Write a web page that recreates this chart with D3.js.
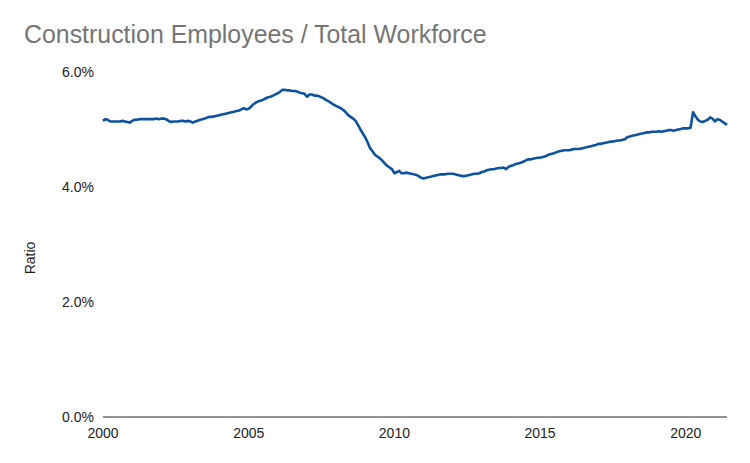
<!DOCTYPE html>
<html>
<head>
<meta charset="utf-8">
<script src="https://cdn.jsdelivr.net/npm/d3@7"></script>
<style>
  body { margin: 0; background: #fff; }
  svg { display: block; font-family: Arial, "Liberation Sans", sans-serif; }
</style>
</head>
<body>
<div id="chart"></div>
<script>
// monthly ratio, % of total workforce, Jan 2000 .. Jun 2021
const firstMonth = "2000-01";
const ratio2000s = [
  5.15, 5.18, 5.17, 5.14, 5.14, 5.14, 5.14, 5.14, 5.15, 5.14, 5.13, 5.12, // 2000
  5.15, 5.17, 5.17, 5.18, 5.18, 5.18, 5.18, 5.18, 5.18, 5.18, 5.19, 5.18, // 2001
  5.19, 5.19, 5.18, 5.15, 5.13, 5.14, 5.14, 5.14, 5.15, 5.15, 5.14, 5.15, // 2002
  5.14, 5.12, 5.14, 5.15, 5.17, 5.18, 5.19, 5.21, 5.22, 5.22, 5.23, 5.24, // 2003
  5.25, 5.26, 5.27, 5.28, 5.29, 5.30, 5.31, 5.32, 5.33, 5.35, 5.37, 5.35, // 2004
  5.36, 5.40, 5.44, 5.47, 5.49, 5.50, 5.52, 5.54, 5.56, 5.57, 5.59, 5.61, // 2005
  5.63, 5.66, 5.69, 5.69, 5.68, 5.68, 5.67, 5.67, 5.66, 5.64, 5.63, 5.62, // 2006
  5.57, 5.61, 5.61, 5.59, 5.59, 5.58, 5.56, 5.54, 5.51, 5.49, 5.46, 5.43, // 2007
  5.41, 5.39, 5.37, 5.34, 5.30, 5.25, 5.22, 5.19, 5.15, 5.08, 5.00, 4.93, // 2008
  4.86, 4.77, 4.68, 4.62, 4.56, 4.53, 4.50, 4.46, 4.41, 4.37, 4.34, 4.31  // 2009
];
const ratio2010s = [
  4.24, 4.26, 4.28, 4.24, 4.24, 4.25, 4.24, 4.23, 4.22, 4.21, 4.19, 4.16, // 2010
  4.15, 4.16, 4.17, 4.18, 4.19, 4.20, 4.21, 4.22, 4.22, 4.22, 4.23, 4.23, // 2011
  4.23, 4.22, 4.21, 4.20, 4.19, 4.19, 4.20, 4.21, 4.22, 4.23, 4.23, 4.24, // 2012
  4.26, 4.27, 4.29, 4.30, 4.31, 4.31, 4.32, 4.33, 4.33, 4.34, 4.31, 4.35, // 2013
  4.37, 4.38, 4.40, 4.41, 4.42, 4.44, 4.46, 4.48, 4.48, 4.49, 4.50, 4.51, // 2014
  4.51, 4.52, 4.53, 4.55, 4.57, 4.58, 4.59, 4.61, 4.62, 4.63, 4.64, 4.64, // 2015
  4.64, 4.65, 4.66, 4.66, 4.66, 4.67, 4.68, 4.69, 4.70, 4.71, 4.72, 4.73, // 2016
  4.75, 4.75, 4.76, 4.77, 4.78, 4.79, 4.79, 4.80, 4.81, 4.81, 4.82, 4.83, // 2017
  4.87, 4.88, 4.89, 4.90, 4.91, 4.92, 4.93, 4.94, 4.95, 4.95, 4.96, 4.96, // 2018
  4.96, 4.97, 4.96, 4.97, 4.98, 4.99, 4.99, 4.98, 4.99, 5.00, 5.01, 5.02  // 2019
];
const ratio2020s = [
  5.02, 5.02, 5.03, 5.30, 5.23, 5.17, 5.14, 5.13, 5.15, 5.17, 5.21, 5.19, // 2020
  5.14, 5.18, 5.17, 5.14, 5.11, 5.08                                      // 2021
];

const titleText = "Construction Employees / Total Workforce";
const yTitle = "Ratio";
const yTicks = [0, 2, 4, 6];
const xTickYears = [2000, 2005, 2010, 2015, 2020];

const width = 750, height = 463;
const plot = { left: 103, right: 727, top: 72, bottom: 417 };

const parseMonth = d3.timeParse("%Y-%m");
const values = ratio2000s.concat(ratio2010s, ratio2020s);
const start = parseMonth(firstMonth);
const data = values.map((v, i) => ({ date: d3.timeMonth.offset(start, i), value: v }));

const svg = d3.select("#chart").append("svg")
    .attr("width", width)
    .attr("height", height);

const x = d3.scaleTime()
    .domain(d3.extent(data, d => d.date))
    .range([plot.left, plot.right]);

const y = d3.scaleLinear()
    .domain([0, 6])
    .range([plot.bottom, plot.top]);

// title
svg.append("text")
    .attr("x", 24)
    .attr("y", 43)
    .attr("fill", "#757575")
    .attr("font-size", "24.9px")
    .text(titleText);

// y axis labels
svg.append("g")
  .selectAll("text")
  .data(yTicks)
  .enter().append("text")
    .attr("x", 94)
    .attr("y", d => y(d))
    .attr("dy", "0.36em")
    .attr("text-anchor", "end")
    .attr("font-size", "14px")
    .attr("fill", "#222")
    .text(d => d3.format(".1f")(d) + "%");

svg.append("text")
    .attr("transform", "translate(35,258) rotate(-90)")
    .attr("text-anchor", "middle")
    .attr("font-size", "14px")
    .attr("fill", "#222")
    .text(yTitle);

// x axis labels
svg.append("g")
  .selectAll("text")
  .data(xTickYears)
  .enter().append("text")
    .attr("x", d => x(new Date(d, 0, 1)))
    .attr("y", 438)
    .attr("text-anchor", "middle")
    .attr("font-size", "14px")
    .attr("fill", "#222")
    .text(d => d);

// baseline
svg.append("line")
    .attr("x1", plot.left)
    .attr("x2", plot.right)
    .attr("y1", y(0))
    .attr("y2", y(0))
    .attr("stroke", "#6e6e6e")
    .attr("stroke-width", 1.6);

const line = d3.line()
    .x(d => x(d.date))
    .y(d => y(d.value));

svg.append("path")
    .datum(data)
    .attr("fill", "none")
    .attr("stroke", "#0d52a1")
    .attr("stroke-width", 2.6)
    .attr("stroke-linejoin", "round")
    .attr("d", line);
</script>
</body>
</html>
